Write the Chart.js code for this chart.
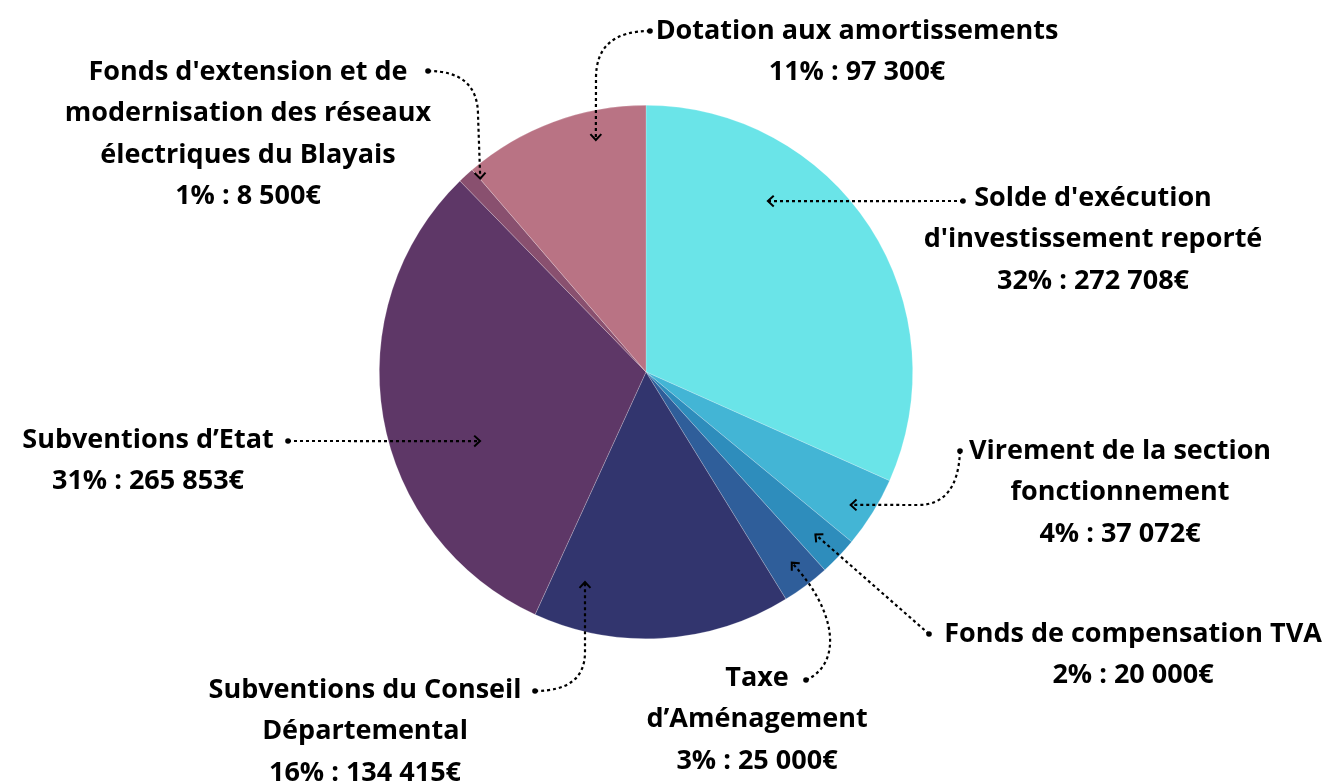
<!DOCTYPE html>
<html>
<head>
<meta charset="utf-8">
<script src="https://cdn.jsdelivr.net/npm/chart.js@4"></script>
<style>
  html, body { margin: 0; padding: 0; background: #ffffff; }
  #wrap { width: 1340px; height: 783px; }
</style>
</head>
<body>
<div id="wrap"><canvas id="pieChart"></canvas></div>
<script>
        // Recettes d'investissement
        const categories = [
            "Solde d'exécution d'investissement reporté",
            'Virement de la section fonctionnement',
            'Fonds de compensation TVA',
            'Taxe d’Aménagement',
            'Subventions du Conseil Départemental',
            'Subventions d’Etat',
            "Fonds d'extension et de modernisation des réseaux électriques du Blayais",
            'Dotation aux amortissements'
        ];
        const amounts = [272708, 37072, 20000, 25000, 134415, 265853, 8500, 97300];
        const percentLabels = ['32%', '4%', '2%', '3%', '16%', '31%', '1%', '11%'];
        const amountLabels = ['272 708€', '37 072€', '20 000€', '25 000€', '134 415€', '265 853€', '8 500€', '97 300€'];
        const colors = ['#6ae4e8', '#43b5d5', '#2e8dbc', '#2f5e9a', '#32356e', '#5e3767', '#89506f', '#b97384'];

        // label text lines (without the value line)
        const titleLines = [
            ["Solde d'exécution", "d'investissement reporté"],
            ['Virement de la section', 'fonctionnement'],
            ['Fonds de compensation TVA'],
            ['Taxe', 'd’Aménagement'],
            ['Subventions du Conseil', 'Départemental'],
            ['Subventions d’Etat'],
            ["Fonds d'extension et de", 'modernisation des réseaux', 'électriques du Blayais'],
            ['Dotation aux amortissements']
        ];

        // label placement + leader line (layout only)
        const labelLayout = [
            { x: 1093, y: 198, start: [963, 201], tip: [35.5, 0.787], path: 'line' },
            { x: 1120, y: 451, start: [960, 451], tip: [123, 0.915], path: 'q', c: [958, 505], m: [918, 505] },
            { x: 1133, y: 634, start: [929, 634], tip: [133.8, 0.88], path: 'line' },
            { x: 757, y: 678, start: [806, 680], tip: [142.6, 0.90], path: 'b', c1: [842, 664], c2: [838, 612] },
            { x: 365, y: 690, start: [535, 691], tip: [196.2, 0.82], path: 'q', c: [585, 691], m: [585, 652] },
            { x: 148, y: 440, start: [288, 441], tip: [247.4, 0.674], path: 'line' },
            { x: 248, y: 72, start: [428, 71], tip: [319.4, 0.955], path: 'q', c: [478, 71], m: [478, 115] },
            { x: 857, y: 31, start: [650, 31], tip: [347.8, 0.89], path: 'q', c: [596, 31], m: [596, 78] }
        ];

        const FONT = 'bold 27px "Open Sans", Lato, sans-serif';
        const LINE_H = 41.5;

        const calloutPlugin = {
            id: 'callouts',
            afterDraw(chart) {
                const ctx = chart.ctx;
                const arc = chart.getDatasetMeta(0).data[0];
                const cx = arc.x, cy = arc.y, r = arc.outerRadius;
                ctx.save();
                ctx.fillStyle = '#000';
                ctx.strokeStyle = '#000';
                ctx.font = FONT;
                ctx.textAlign = 'center';
                ctx.textBaseline = 'middle';
                labelLayout.forEach((lay, i) => {
                    const lines = titleLines[i].concat([percentLabels[i] + ' : ' + amountLabels[i]]);
                    lines.forEach((t, k) => ctx.fillText(t, lay.x, lay.y + k * LINE_H));

                    const a = lay.tip[0] * Math.PI / 180;
                    const tx = cx + Math.sin(a) * r * lay.tip[1];
                    const ty = cy - Math.cos(a) * r * lay.tip[1];
                    const [sx, sy] = lay.start;

                    // dotted leader
                    ctx.lineWidth = 2.2;
                    ctx.setLineDash([3, 3]);
                    ctx.beginPath();
                    ctx.moveTo(sx, sy);
                    let px = sx, py = sy;
                    if (lay.path === 'q') {
                        ctx.quadraticCurveTo(lay.c[0], lay.c[1], lay.m[0], lay.m[1]);
                        ctx.lineTo(tx, ty);
                        px = lay.m[0]; py = lay.m[1];
                    } else if (lay.path === 'b') {
                        ctx.bezierCurveTo(lay.c1[0], lay.c1[1], lay.c2[0], lay.c2[1], tx, ty);
                        px = lay.c2[0]; py = lay.c2[1];
                    } else {
                        ctx.lineTo(tx, ty);
                    }
                    ctx.stroke();
                    ctx.setLineDash([]);

                    // start dot
                    ctx.beginPath();
                    ctx.arc(sx, sy, 2.8, 0, Math.PI * 2);
                    ctx.fill();

                    // arrow head (open chevron)
                    const ang = Math.atan2(ty - py, tx - px);
                    const h = 8;
                    ctx.lineWidth = 2;
                    ctx.beginPath();
                    ctx.moveTo(tx - h * Math.cos(ang - 0.75), ty - h * Math.sin(ang - 0.75));
                    ctx.lineTo(tx, ty);
                    ctx.lineTo(tx - h * Math.cos(ang + 0.75), ty - h * Math.sin(ang + 0.75));
                    ctx.stroke();
                });
                ctx.restore();
            }
        };

        const ctx = document.getElementById('pieChart').getContext('2d');
        new Chart(ctx, {
            type: 'pie',
            data: {
                labels: categories,
                datasets: [{
                    data: amounts,
                    backgroundColor: colors,
                    borderColor: 'rgba(255,255,255,0.35)',
                    borderWidth: 0.6
                }]
            },
            options: {
                responsive: true,
                maintainAspectRatio: false,
                animation: false,
                layout: {
                    padding: { top: 105, bottom: 144, left: 300, right: 348 }
                },
                plugins: {
                    legend: { display: false },
                    tooltip: { enabled: false }
                }
            },
            plugins: [calloutPlugin]
        });
</script>
</body>
</html>
